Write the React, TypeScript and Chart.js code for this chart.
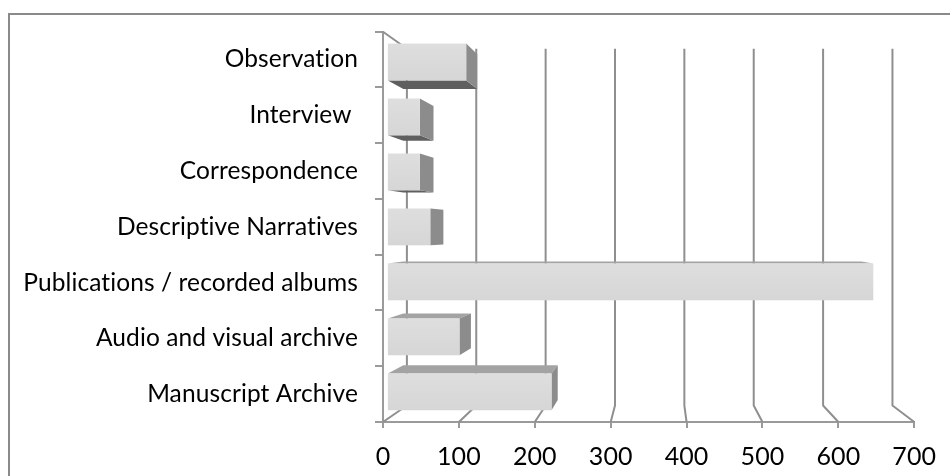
import React, { useEffect, useRef } from "react";
import { Chart, registerables } from "chart.js";

Chart.register(...registerables);

const categories = [
  "Observation",
  "Interview ",
  "Correspondence",
  "Descriptive Narratives",
  "Publications / recorded albums",
  "Audio and visual archive",
  "Manuscript Archive",
];
const values = [106, 44, 44, 58, 650, 97, 220];
const xMin = 0;
const xMax = 700;
const xStep = 100;

const FONT = "Lato, 'DejaVu Sans', sans-serif";
const K_WALL = 0.086;
const K_FRONT = 0.014;
const K_BACK = 0.07;
const VP_FX = 0.523;
const VP_FY = 0.509;

function proj(x: number, y: number, k: number, vx: number, vy: number) {
  return [vx + (x - vx) * (1 - k), vy + (y - vy) * (1 - k)];
}

const threeD = {
  id: "threeD",
  beforeDraw(chart: any) {
    const { ctx, width, height } = chart;
    try {
      (ctx as any).letterSpacing = "0.1px";
    } catch (e) {}
    ctx.save();
    ctx.fillStyle = "#ffffff";
    ctx.fillRect(0, 0, width, height);
    ctx.strokeStyle = "#8a8a8a";
    ctx.lineWidth = 2;
    ctx.strokeRect(9, 14, 3000, 3000);
    ctx.restore();
  },
  beforeDatasetsDraw(chart: any) {
    const { ctx, chartArea: a } = chart;
    const xs = chart.scales.x;
    const vx = a.left + (a.right - a.left) * VP_FX;
    const vy = a.top + (a.bottom - a.top) * VP_FY;
    ctx.save();
    ctx.strokeStyle = "#8f8f8f";
    ctx.lineWidth = 2;
    ctx.lineJoin = "round";
    xs.ticks.forEach((t: any) => {
      const fx = xs.getPixelForValue(t.value);
      const [bx, bt] = proj(fx, a.top, K_WALL, vx, vy);
      const [, bb] = proj(fx, a.bottom, K_WALL, vx, vy);
      ctx.beginPath();
      ctx.moveTo(bx, bt);
      ctx.lineTo(bx, bb);
      ctx.lineTo(fx, a.bottom);
      ctx.stroke();
    });
    const [tx, ty] = proj(a.left, a.top, K_WALL, vx, vy);
    ctx.beginPath();
    ctx.moveTo(a.left, a.top);
    ctx.lineTo(tx, ty);
    ctx.stroke();

    const meta = chart.getDatasetMeta(0);
    meta.data.forEach((bar: any) => {
      const p = bar.getProps(["x", "base", "y", "height"], true);
      const x0 = p.base;
      const x1 = p.x;
      const y0 = p.y - p.height / 2;
      const y1 = p.y + p.height / 2;
      const F = (x: number, y: number) => proj(x, y, K_FRONT, vx, vy);
      const B = (x: number, y: number) => proj(x, y, K_BACK, vx, vy);
      const poly = (pts: number[][], color: string) => {
        ctx.beginPath();
        ctx.moveTo(pts[0][0], pts[0][1]);
        for (let i = 1; i < pts.length; i++) ctx.lineTo(pts[i][0], pts[i][1]);
        ctx.closePath();
        ctx.fillStyle = color;
        ctx.fill();
      };
      if (y0 > vy) {
        poly([F(x0, y0), F(x1, y0), B(x1, y0), B(x0, y0)], "#a3a3a3");
      }
      if (y1 < vy) {
        poly([F(x0, y1), F(x1, y1), B(x1, y1), B(x0, y1)], "#5f5f5f");
      }
      if (F(x1, y0)[0] < vx) {
        poly([F(x1, y0), F(x1, y1), B(x1, y1), B(x1, y0)], "#8c8c8c");
      }
      const [fx0, fy0] = F(x0, y0);
      const [fx1, fy1] = F(x1, y1);
      const g = ctx.createLinearGradient(0, fy0, 0, fy1);
      g.addColorStop(0, "#dedede");
      g.addColorStop(1, "#d6d6d6");
      ctx.fillStyle = g;
      ctx.fillRect(fx0, fy0, fx1 - fx0, fy1 - fy0);
    });
    ctx.restore();
  },
};

export default function App() {
  const ref = useRef<HTMLCanvasElement | null>(null);
  useEffect(() => {
    if (!ref.current) return;
    const chart = new Chart(ref.current, {
      type: "bar",
      data: {
        labels: categories,
        datasets: [
          {
            data: values,
            backgroundColor: "rgba(0,0,0,0)",
            borderWidth: 0,
            barPercentage: 0.67,
            categoryPercentage: 1,
          },
        ],
      },
      options: {
        indexAxis: "y",
        animation: false,
        responsive: false,
        maintainAspectRatio: false,
        layout: { padding: { left: 0, top: 19, right: 32, bottom: 0 } },
        plugins: { legend: { display: false }, tooltip: { enabled: false } },
        scales: {
          x: {
            min: xMin,
            max: xMax,
            ticks: {
              stepSize: xStep,
              color: "#000",
              font: { family: FONT, size: 25 },
              padding: 14,
              maxRotation: 0,
            },
            grid: {
              drawOnChartArea: false,
              drawTicks: true,
              tickLength: 6,
              color: "#9a9a9a",
              lineWidth: 2,
            },
            border: { display: true, color: "#9a9a9a", width: 2 },
            afterFit: (s: any) => {
              s.height = 54;
            },
          },
          y: {
            ticks: {
              color: "#000",
              font: { family: FONT, size: 24.5 },
              padding: 17,
            },
            grid: {
              drawOnChartArea: false,
              drawTicks: true,
              tickLength: 8,
              color: "#9a9a9a",
              lineWidth: 2,
            },
            border: { display: true, color: "#9a9a9a", width: 2 },
            afterFit: (s: any) => {
              s.width = 383;
            },
          },
        },
      },
      plugins: [threeD],
    });
    return () => chart.destroy();
  }, []);
  return (
    <div style={{ position: "fixed", left: 0, top: 0, width: 950, height: 476, background: "#fff" }}>
      <canvas ref={ref} width={950} height={476} style={{ width: 950, height: 476, display: "block" }} />
    </div>
  );
}
